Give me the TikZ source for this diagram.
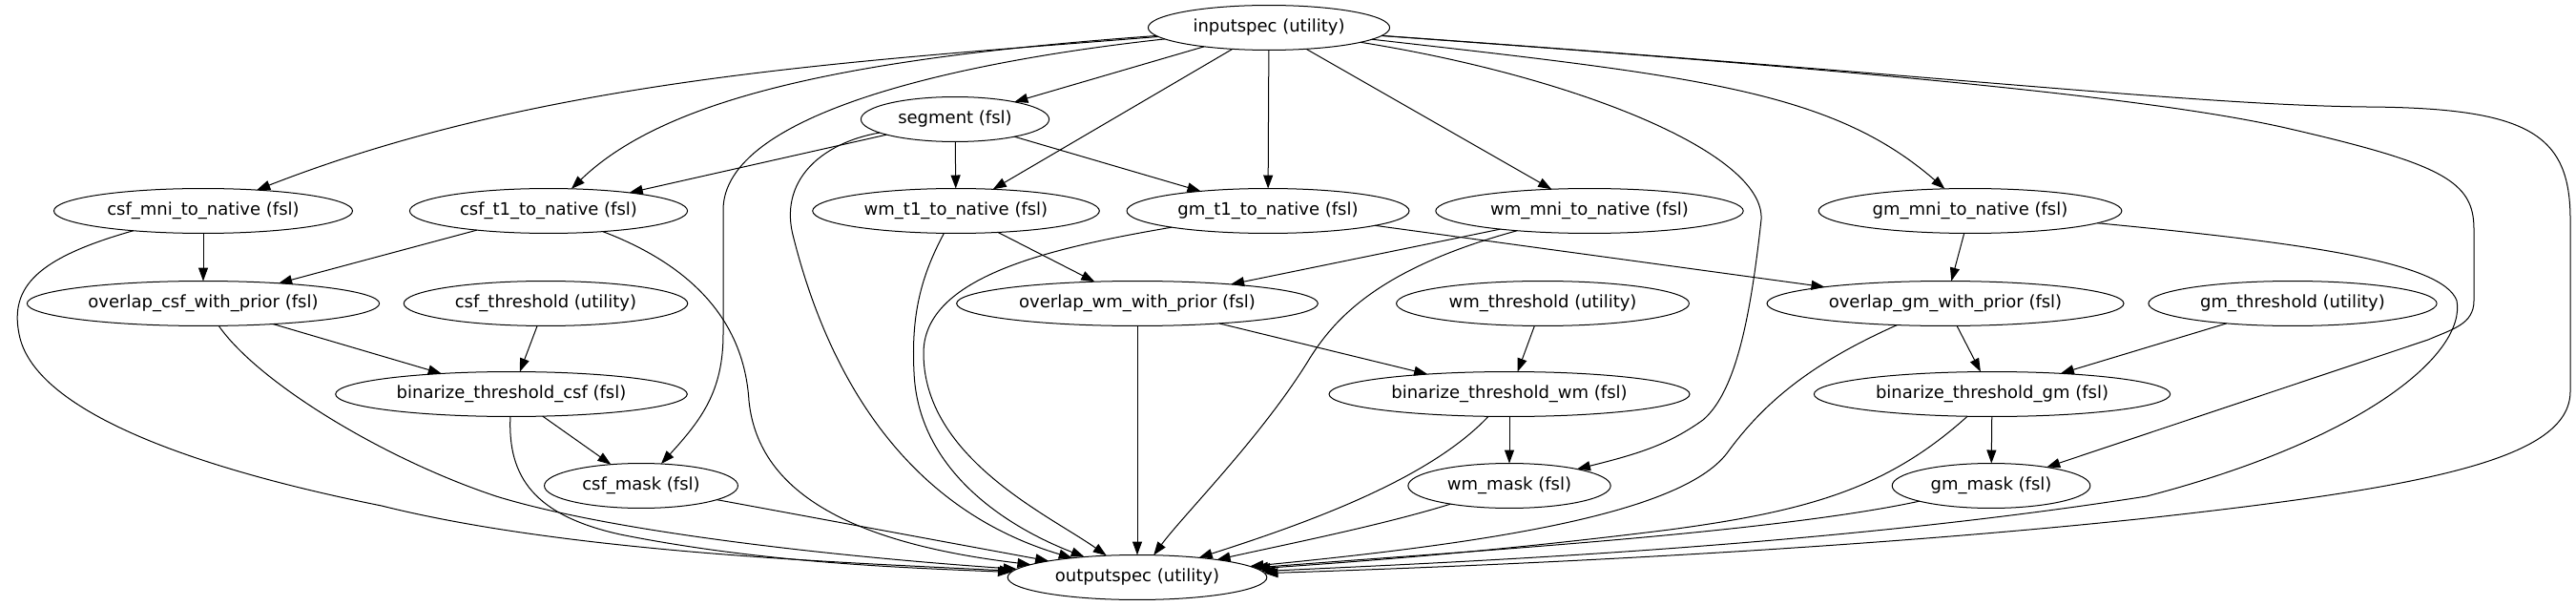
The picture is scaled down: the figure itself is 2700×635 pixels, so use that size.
\documentclass[tikz,border=0pt]{standalone}
\usepackage{fontspec}
\setmainfont{DejaVu Sans}
\usetikzlibrary{shapes.geometric,arrows.meta}
\begin{document}
\begin{tikzpicture}[x=1bp,y=-1bp,
  nd/.style={draw,ellipse,line width=1bp,inner xsep=10bp,inner ysep=7.6bp,
    text height=13.7bp,text depth=4.3bp,outer sep=0pt,
    font=\fontsize{18bp}{22bp}\selectfont},
  ed/.style={draw,line width=1bp,-{Triangle[length=14bp,width=10bp]}}]
\useasboundingbox (0,0) rectangle (2700,635);
% nodes
\node[nd] (in)    at (1330,29)  {inputspec (utility)};
\node[nd] (seg)   at (1001,125) {segment (fsl)};
\node[nd] (cmni)  at (213,221)  {csf\_mni\_to\_native (fsl)};
\node[nd] (ct1)   at (575,221)  {csf\_t1\_to\_native (fsl)};
\node[nd] (wt1)   at (1002,221) {wm\_t1\_to\_native (fsl)};
\node[nd] (gt1)   at (1329,221) {gm\_t1\_to\_native (fsl)};
\node[nd] (wmni)  at (1666,221) {wm\_mni\_to\_native (fsl)};
\node[nd] (gmni)  at (2065,221) {gm\_mni\_to\_native (fsl)};
\node[nd] (ocsf)  at (213,318)  {overlap\_csf\_with\_prior (fsl)};
\node[nd] (cthr)  at (572,318)  {csf\_threshold (utility)};
\node[nd] (owm)   at (1192,318) {overlap\_wm\_with\_prior (fsl)};
\node[nd] (wthr)  at (1617,318) {wm\_threshold (utility)};
\node[nd] (ogm)   at (2039,318) {overlap\_gm\_with\_prior (fsl)};
\node[nd] (gthr)  at (2403,318) {gm\_threshold (utility)};
\node[nd] (bcsf)  at (536,413)  {binarize\_threshold\_csf (fsl)};
\node[nd] (bwm)   at (1582,413) {binarize\_threshold\_wm (fsl)};
\node[nd] (bgm)   at (2088,413) {binarize\_threshold\_gm (fsl)};
\node[nd] (cmask) at (672,509)  {csf\_mask (fsl)};
\node[nd] (wmask) at (1582,509) {wm\_mask (fsl)};
\node[nd] (gmask) at (2087,509) {gm\_mask (fsl)};
\node[nd] (out)   at (1192,605) {outputspec (utility)};
% edges from inputspec
\draw[ed] (in) -- (seg);
\draw[ed] (in) .. controls (900,64) and (572,81) .. (cmni);
\draw[ed] (in) .. controls (900,60) and (700,100) .. (ct1);
\draw[ed] (in) .. controls (1000,65) and (758,120) .. (758,220) -- (758,350) .. controls (758,410) and (735,440) .. (cmask);
\draw[ed] (in) -- (wt1);
\draw[ed] (in) -- (gt1);
\draw[ed] (in) -- (wmni);
\draw[ed] (in) .. controls (1780,80) and (1920,95) .. (gmni);
\draw[ed] (in) .. controls (1650,80) and (1850,160) .. (1846,230) .. controls (1835,330) and (1820,410) .. (1785,440) .. controls (1750,465) and (1720,475) .. (wmask);
\draw[ed] (in) .. controls (1900,70) and (2250,100) .. (2400,135) .. controls (2560,172) and (2593,190) .. (2593,240) -- (2593,315) .. controls (2593,340) and (2570,345) .. (2545,356) -- (gmask);
\draw[ed] (in) .. controls (2050,80) and (2300,110) .. (2480,112) .. controls (2650,113) and (2694,140) .. (2694,230) -- (2694,410) .. controls (2694,480) and (2550,510) .. (2250,543) .. controls (1900,580) and (1500,595) .. (out);
% edges from segment
\draw[ed] (seg) -- (ct1);
\draw[ed] (seg) -- (wt1);
\draw[ed] (seg) -- (gt1);
\draw[ed] (seg) .. controls (860,150) and (815,190) .. (832,250) .. controls (865,380) and (940,530) .. (out);
% second row
\draw[ed] (cmni) -- (ocsf);
\draw[ed] (cmni) .. controls (40,270) and (10,300) .. (20,350) .. controls (35,430) and (200,490) .. (400,530) .. controls (600,580) and (900,590) .. (out);
\draw[ed] (ct1) -- (ocsf);
\draw[ed] (ct1) .. controls (730,280) and (780,340) .. (785,420) .. controls (795,520) and (900,570) .. (out);
\draw[ed] (wt1) -- (owm);
\draw[ed] (wt1) .. controls (965,290) and (955,330) .. (958,390) .. controls (962,490) and (1050,550) .. (out);
\draw[ed] (gt1) -- (ogm);
\draw[ed] (gt1) .. controls (1100,260) and (968,290) .. (968,370) .. controls (968,480) and (1100,540) .. (out);
\draw[ed] (wmni) -- (owm);
\draw[ed] (wmni) .. controls (1450,280) and (1400,330) .. (1370,380) .. controls (1320,460) and (1240,540) .. (out);
\draw[ed] (gmni) -- (ogm);
\draw[ed] (gmni) .. controls (2420,255) and (2560,275) .. (2575,315) .. controls (2585,370) and (2480,460) .. (2250,520) .. controls (1900,575) and (1500,590) .. (out);
% third row
\draw[ed] (ocsf) -- (bcsf);
\draw[ed] (ocsf) .. controls (270,400) and (400,480) .. (520,520) .. controls (650,560) and (900,585) .. (out);
\draw[ed] (cthr) -- (bcsf);
\draw[ed] (owm) -- (bwm);
\draw[ed] (owm) -- (out);
\draw[ed] (wthr) -- (bwm);
\draw[ed] (ogm) -- (bgm);
\draw[ed] (ogm) .. controls (1900,380) and (1850,420) .. (1810,475) .. controls (1760,540) and (1550,570) .. (out);
\draw[ed] (gthr) -- (bgm);
% fourth row
\draw[ed] (bcsf) -- (cmask);
\draw[ed] (bcsf) .. controls (532,500) and (560,540) .. (650,560) .. controls (800,590) and (950,595) .. (out);
\draw[ed] (bwm) -- (wmask);
\draw[ed] (bwm) .. controls (1500,500) and (1380,545) .. (out);
\draw[ed] (bgm) -- (gmask);
\draw[ed] (bgm) .. controls (1980,510) and (1900,535) .. (1750,555) .. controls (1550,580) and (1400,590) .. (out);
% masks
\draw[ed] (cmask) -- (out);
\draw[ed] (wmask) .. controls (1450,550) and (1350,570) .. (out);
\draw[ed] (gmask) .. controls (1850,560) and (1500,580) .. (out);
\end{tikzpicture}
\end{document}
